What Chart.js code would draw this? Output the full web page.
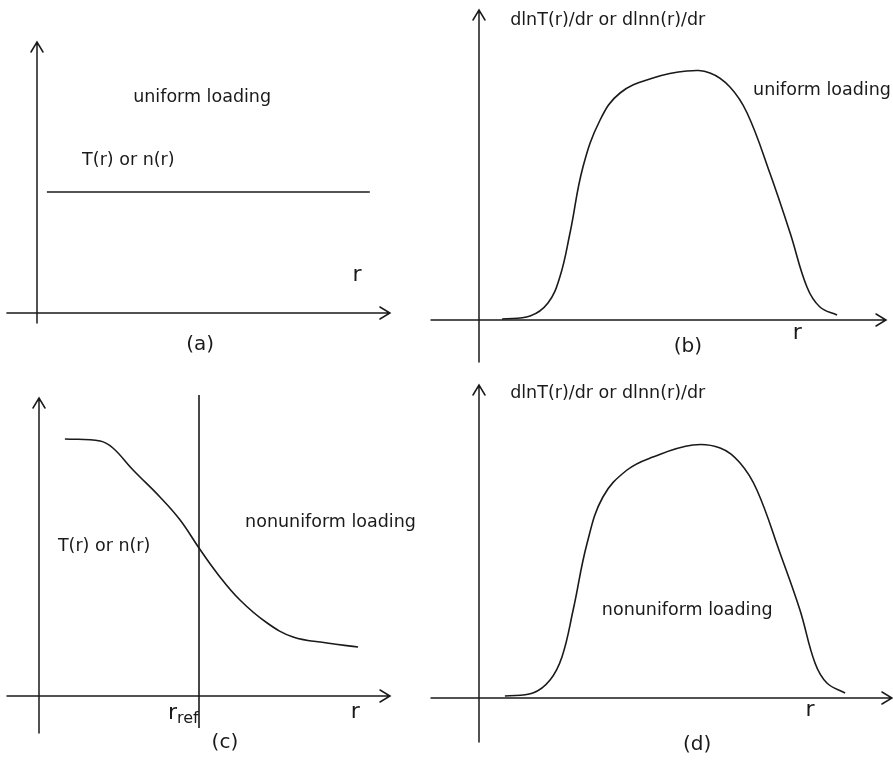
<!DOCTYPE html>
<html>
<head>
<meta charset="utf-8">
<script src="https://cdn.jsdelivr.net/npm/chart.js@4/dist/chart.umd.min.js"></script>
<style>
  body { margin: 0; background: #fff; }
  .panel { position: absolute; }
</style>
</head>
<body>
<div class="panel" style="left:0;top:0;width:420px;height:370px"><canvas id="panelA"></canvas></div>
<div class="panel" style="left:420px;top:0;width:473px;height:370px"><canvas id="panelB"></canvas></div>
<div class="panel" style="left:0;top:370px;width:420px;height:393px"><canvas id="panelC"></canvas></div>
<div class="panel" style="left:420px;top:370px;width:473px;height:393px"><canvas id="panelD"></canvas></div>
<script>
// (a) uniform profile
const rA = [0.31, 10.4];
const profileA = [4.84, 4.84];

// (b) gradient, uniform loading
const rB = [0.66, 1.46, 1.97, 2.31, 2.6, 2.97, 3.46, 4.03, 4.97, 5.94, 6.6, 7.17, 7.66, 8.31, 8.89, 9.37, 9.74, 10.23];
const gradB = [0.04, 0.16, 0.68, 1.72, 3.48, 6.12, 8.0, 9.08, 9.68, 9.96, 9.88, 9.32, 8.28, 5.88, 3.48, 1.32, 0.52, 0.2];

// (c) nonuniform profile
const rC = [0.81, 1.91, 2.31, 2.94, 3.78, 4.41, 5.0, 5.56, 6.28, 7.13, 7.94, 9.0, 9.97];
const profileC = [10.28, 10.2, 9.92, 9.04, 7.96, 7.04, 5.92, 4.92, 3.84, 2.92, 2.36, 2.12, 1.96];
const rRef = 5.0;

// (d) gradient, nonuniform loading
const rD = [0.74, 1.54, 2.03, 2.37, 2.69, 3.09, 3.54, 4.23, 4.97, 6.11, 6.89, 7.46, 7.94, 8.6, 9.17, 9.6, 9.94, 10.46];
const gradD = [0.08, 0.2, 0.72, 1.64, 3.52, 6.2, 8.04, 9.12, 9.64, 10.12, 10.0, 9.4, 8.32, 5.8, 3.52, 1.4, 0.6, 0.2];

const INK = '#1a1a1a';
const FONT = '"DejaVu Sans", Verdana, sans-serif';

const pts = (xs, ys) => xs.map((x, i) => ({ x, y: ys[i] }));

// axes with open arrowheads, plus the text labels
const sketchPlugin = {
  id: 'sketch',
  afterDraw(chart, args, opts) {
    const ctx = chart.ctx;
    const sx = chart.scales.x, sy = chart.scales.y;
    const px = v => sx.getPixelForValue(v), py = v => sy.getPixelForValue(v);
    ctx.save();
    ctx.strokeStyle = INK;
    ctx.lineWidth = 1.5;
    ctx.lineCap = 'round';
    const ax = opts.axes;
    // x axis
    const x0 = px(ax.x[0]), x1 = px(ax.x[1]), y0 = py(0);
    ctx.beginPath();
    ctx.moveTo(x0, y0); ctx.lineTo(x1, y0);
    ctx.moveTo(x1 - 10, y0 - 6); ctx.lineTo(x1, y0); ctx.lineTo(x1 - 10, y0 + 6);
    ctx.stroke();
    // y axis
    const yb = py(ax.y[0]), yt = py(ax.y[1]), xo = px(0);
    ctx.beginPath();
    ctx.moveTo(xo, yb); ctx.lineTo(xo, yt);
    ctx.moveTo(xo - 6, yt + 10); ctx.lineTo(xo, yt); ctx.lineTo(xo + 6, yt + 10);
    ctx.stroke();

    ctx.fillStyle = INK;
    ctx.textBaseline = 'middle';
    (opts.labels || []).forEach(l => {
      ctx.font = (l.size || 17.5) + 'px ' + FONT;
      ctx.textAlign = l.align || 'left';
      const lx = px(l.x), ly = py(l.y);
      ctx.fillText(l.text, lx, ly);
      if (l.sub) {
        const w = ctx.measureText(l.text).width;
        ctx.font = (l.subSize || 14) + 'px ' + FONT;
        ctx.textAlign = 'left';
        ctx.fillText(l.sub, lx + w, ly + 6);
      }
    });
    ctx.restore();
  }
};

function makePanel(id, cfg) {
  const el = document.getElementById(id);
  const W = el.parentNode.clientWidth, H = el.parentNode.clientHeight;
  // origin at (ox, oy) inside the panel, sx / sy pixels per unit
  const xmin = -cfg.ox / cfg.sx, xmax = (W - cfg.ox) / cfg.sx;
  const ymin = -(H - cfg.oy) / cfg.sy, ymax = cfg.oy / cfg.sy;
  return new Chart(el, {
    type: 'line',
    data: {
      datasets: cfg.series.map(s => ({
        data: s,
        borderColor: INK,
        borderWidth: 1.6,
        pointRadius: 0,
        fill: false,
        tension: 0.4
      }))
    },
    options: {
      responsive: true,
      maintainAspectRatio: false,
      animation: false,
      layout: { padding: 0 },
      scales: {
        x: { type: 'linear', display: false, min: xmin, max: xmax },
        y: { type: 'linear', display: false, min: ymin, max: ymax }
      },
      plugins: {
        legend: { display: false },
        tooltip: { enabled: false },
        sketch: { axes: cfg.axes, labels: cfg.labels }
      }
    },
    plugins: [sketchPlugin]
  });
}

makePanel('panelA', {
  ox: 37, oy: 313, sx: 32, sy: 25,
  series: [pts(rA, profileA)],
  axes: { x: [-0.94, 11.03], y: [-0.4, 10.84] },
  labels: [
    { text: 'uniform loading', x: 5.16, y: 8.64, align: 'center' },
    { text: 'T(r) or n(r)', x: 1.41, y: 6.12 },
    { text: 'r', x: 10.0, y: 1.52, align: 'center', size: 22 },
    { text: '(a)', x: 5.1, y: -1.28, align: 'center', size: 20 }
  ]
});

makePanel('panelB', {
  ox: 59, oy: 320, sx: 35, sy: 25,
  series: [pts(rB, gradB)],
  axes: { x: [-1.37, 11.63], y: [-1.68, 12.4] },
  labels: [
    { text: 'dlnT(r)/dr or dlnn(r)/dr', x: 0.89, y: 12.0 },
    { text: 'uniform loading', x: 7.83, y: 9.2 },
    { text: 'r', x: 9.09, y: -0.52, align: 'center', size: 22 },
    { text: '(b)', x: 5.97, y: -1.08, align: 'center', size: 20 }
  ]
});

makePanel('panelC', {
  ox: 39, oy: 326, sx: 32, sy: 25,
  series: [pts(rC, profileC), [{ x: rRef, y: -1.28 }, { x: rRef, y: 12.04 }]],
  axes: { x: [-1.0, 10.97], y: [-1.48, 11.92] },
  labels: [
    { text: 'nonuniform loading', x: 6.44, y: 6.96 },
    { text: 'T(r) or n(r)', x: 0.59, y: 6.0 },
    { text: 'r', sub: 'ref', x: 4.03, y: -0.68, size: 22, subSize: 16 },
    { text: 'r', x: 9.88, y: -0.64, align: 'center', size: 22 },
    { text: '(c)', x: 5.81, y: -1.88, align: 'center', size: 20 }
  ]
});

makePanel('panelD', {
  ox: 59, oy: 328, sx: 35, sy: 25,
  series: [pts(rD, gradD)],
  axes: { x: [-1.37, 11.8], y: [-1.76, 12.52] },
  labels: [
    { text: 'dlnT(r)/dr or dlnn(r)/dr', x: 0.89, y: 12.2 },
    { text: 'nonuniform loading', x: 3.51, y: 3.52 },
    { text: 'r', x: 9.46, y: -0.48, align: 'center', size: 22 },
    { text: '(d)', x: 6.23, y: -1.88, align: 'center', size: 20 }
  ]
});
</script>
</body>
</html>
